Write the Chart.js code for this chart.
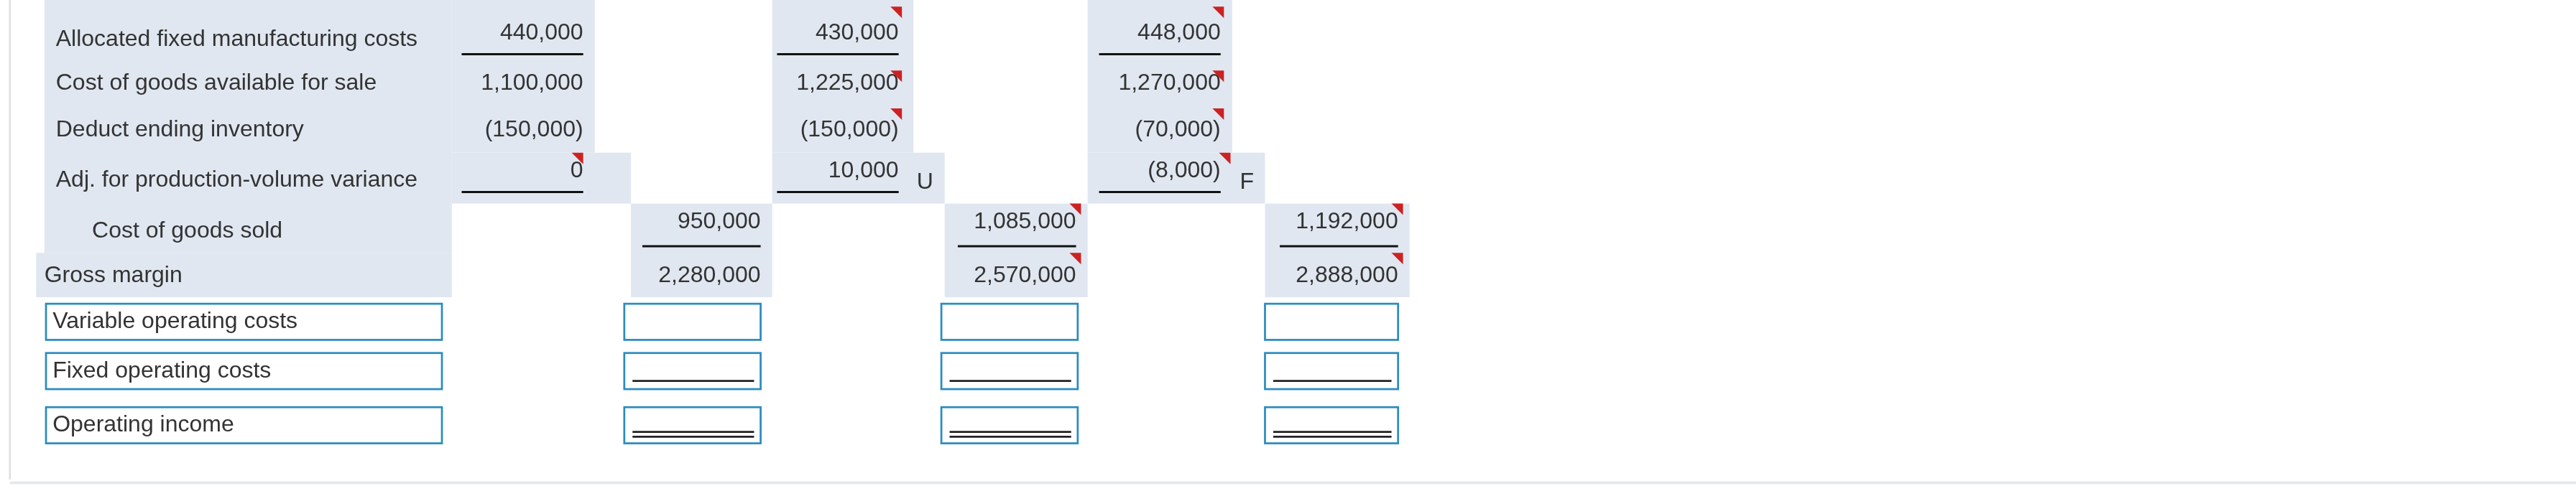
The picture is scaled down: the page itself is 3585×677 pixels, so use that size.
<!DOCTYPE html>
<html><head><meta charset="utf-8">
<script src="https://cdn.jsdelivr.net/npm/chart.js@4/dist/chart.umd.min.js"></script>
<style>html,body{margin:0;padding:0;background:#fff}canvas{display:block}</style>
</head><body>
<canvas id="c" width="3585" height="677"></canvas>
<script>
// Data
const rowLabels = ["Allocated fixed manufacturing costs","Cost of goods available for sale","Deduct ending inventory","Adj. for production-volume variance","Cost of goods sold","Gross margin","Variable operating costs","Fixed operating costs","Operating income"];
const variableCosting = ["440,000","1,100,000","(150,000)","0"];
const absorptionA = ["430,000","1,225,000","(150,000)","10,000"];
const absorptionB = ["448,000","1,270,000","(70,000)","(8,000)"];
const varianceFlags = ["", "U", "F"];
const cogs = ["950,000","1,085,000","1,192,000"];
const grossMargin = ["2,280,000","2,570,000","2,888,000"];

// layout (display units, 1568 x 296)
const rowY = [24,51,79,110,141,168,195,226,259];
const subX = [355,547,743];   // right edges of sub columns
const totX = [463,655,851];   // right edges of total columns
const BG = "#e0e7f1", TXT = "#333", RED = "#cc2222", BOX = "#2b8cbf";

const plugin = {
  id: "table",
  afterDraw(chart) {
    const ctx = chart.ctx, xs = chart.scales.x, ys = chart.scales.y;
    const X = v => xs.getPixelForValue(v), Y = v => ys.getPixelForValue(v);
    const S = X(1) - X(0);
    const rect = (x0,y0,x1,y1,c) => { ctx.fillStyle=c; ctx.fillRect(X(x0),Y(y0),X(x1)-X(x0),Y(y1)-Y(y0)); };
    const line = (x0,y0,x1,y1,c,w) => { ctx.strokeStyle=c; ctx.lineWidth=w*S; ctx.beginPath(); ctx.moveTo(X(x0),Y(y0)); ctx.lineTo(X(x1),Y(y1)); ctx.stroke(); };
    const text = (t,x,y,align,size) => { ctx.fillStyle=TXT; ctx.font=(size||14)*S+"px 'Liberation Sans', Arial, sans-serif"; ctx.textAlign=align; ctx.textBaseline="middle"; ctx.fillText(t,X(x),Y(y)); };
    const tri = (x,y) => { ctx.fillStyle=RED; ctx.beginPath(); ctx.moveTo(X(x-7),Y(y)); ctx.lineTo(X(x),Y(y)); ctx.lineTo(X(x),Y(y+7)); ctx.closePath(); ctx.fill(); };
    const box = (x0,y0,x1,y1) => { ctx.fillStyle="#fff"; ctx.fillRect(X(x0),Y(y0),X(x1)-X(x0),Y(y1)-Y(y0)); ctx.strokeStyle=BOX; ctx.lineWidth=1.2*S; ctx.strokeRect(X(x0),Y(y0),X(x1)-X(x0),Y(y1)-Y(y0)); };

    // frame lines
    line(6,0,6,292,"#d9dde3",1);
    line(6,294,1568,294,"#e3e6ea",1.5);
    // backgrounds
    rect(27,0,275,154,BG); rect(22,154,275,181,BG);
    [[275,362,384],[470,556,575],[662,750,770]].forEach(([a,b,c])=>{ rect(a,0,b,93,BG); rect(a,93,c,124,BG); });
    [[384,470],[575,662],[770,858]].forEach(([a,b])=>rect(a,124,b,181,BG));
    // labels
    for (let i=0;i<6;i++) text(rowLabels[i], i===4?56:(i===5?27:34), rowY[i], "left");
    // sub columns
    const subs=[variableCosting,absorptionA,absorptionB];
    subs.forEach((col,c)=>{ col.forEach((v,i)=>text(v,subX[c],i===3?104:rowY[i]-(i===0?4:0),"right")); 
      line(subX[c]-74,33,subX[c],33,"#111",1.3); line(subX[c]-74,117,subX[c],117,"#111",1.3);
      if (varianceFlags[c]) text(varianceFlags[c],subX[c]+16,111,"center"); });
    // totals
    for (let c=0;c<3;c++){ text(cogs[c],totX[c],135,"right"); text(grossMargin[c],totX[c],168,"right"); line(totX[c]-72,150,totX[c],150,"#111",1.3); }
    // red markers
    tri(355,93);
    [547,743].forEach(x=>{ tri(x+2,4); tri(x+2,43); tri(x+2,66); });
    tri(749,93);
    [655,851].forEach(x=>{ tri(x+3,124); tri(x+3,154); });
    // input rows
    [[185,207],[215,237],[248,270]].forEach(([a,b],r)=>{
      box(28,a,269,b); text(rowLabels[6+r],32,(a+b)/2,"left");
      [[380,463],[573,656],[770,851]].forEach(([x0,x1])=>{ box(x0,a,x1,b);
        if(r===1) line(x0+5,b-5,x1-4,b-5,"#222",1.2);
        if(r===2){ line(x0+5,b-7,x1-4,b-7,"#222",1.2); line(x0+5,b-4,x1-4,b-4,"#222",1.2);} });
    });
  }
};

new Chart(document.getElementById("c"), {
  type: "scatter",
  data: { datasets: [{ data: [], showLine:false }] },
  options: {
    responsive:false, animation:false, devicePixelRatio:1,
    layout:{padding:0},
    plugins:{legend:{display:false},tooltip:{enabled:false}},
    scales:{ x:{type:"linear",min:0,max:1568,display:false}, y:{type:"linear",min:0,max:296,reverse:true,display:false} }
  },
  plugins:[plugin]
});
</script>
</body></html>
